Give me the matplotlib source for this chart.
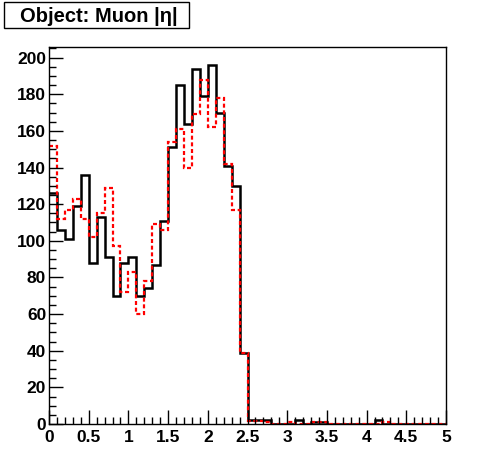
import numpy as np
import matplotlib
matplotlib.use("Agg")
import matplotlib.pyplot as plt
from matplotlib.ticker import MultipleLocator

plt.rcParams['font.family'] = ['Liberation Sans', 'DejaVu Sans']
plt.rcParams['font.weight'] = 'bold'

# Muon |eta|, 50 bins from 0 to 5
bin_lo, bin_hi, n_bins = 0.0, 5.0, 50

black_counts = [126, 106, 101, 119, 136, 88, 113, 91, 70, 88,
                91, 70, 74, 87, 111, 151, 185, 164, 194, 179,
                196, 170, 141, 130, 39, 2, 2, 2, 0, 0,
                0, 2, 0, 1, 1, 0, 0, 0, 0, 0,
                0, 2, 0, 0, 0, 0, 0, 0, 0, 0]
red_counts = [152, 112, 117, 123, 112, 102, 115, 129, 97, 72,
              83, 60, 78, 109, 106, 154, 161, 140, 169, 188,
              162, 178, 142, 117, 39, 1.5, 1.5, 1, 0, 0,
              1, 0, 0, 1, 1, 0, 0, 0, 0, 0,
              0, 0, 1, 0, 0, 0, 0, 0, 0, 0]

title_text = "Object: Muon |\u03b7|"

fig = plt.figure(figsize=(4.96, 4.72), dpi=100)
ax = fig.add_axes([49 / 496, 1 - 424 / 472, 397 / 496, 377 / 472])

edges = np.linspace(bin_lo, bin_hi, n_bins + 1)
ax.stairs(black_counts, edges, color='black', linewidth=1.8, baseline=None)
ax.stairs(red_counts, edges, color='red', linewidth=1.6,
          linestyle=(0, (1.8, 1.2)), baseline=None)

ax.set_xlim(bin_lo, bin_hi)
ax.set_ylim(0, max(black_counts) * 1.05)

ax.xaxis.set_major_locator(MultipleLocator(0.5))
ax.xaxis.set_minor_locator(MultipleLocator(0.1))
ax.yaxis.set_major_locator(MultipleLocator(20))
ax.yaxis.set_minor_locator(MultipleLocator(5))
ax.xaxis.set_major_formatter(plt.FuncFormatter(lambda v, p: f"{v:g}"))

ax.tick_params(which='both', direction='in', top=False, right=False,
               labelsize=12.5, width=1, pad=2)
ax.tick_params(axis='x', which='major', pad=4)
ax.tick_params(which='major', length=10)
ax.tick_params(which='minor', length=5)
for lab in ax.get_xticklabels() + ax.get_yticklabels():
    lab.set_fontweight('bold')
for sp in ax.spines.values():
    sp.set_linewidth(1)

# title box like ROOT
fig.text(99 / 496, 1 - 16 / 472, title_text, ha='center', va='center',
         fontsize=14.5, fontweight='bold')
box = plt.Rectangle((4 / 496, 1 - 28 / 472), 185 / 496, 26 / 472,
                    transform=fig.transFigure, fill=False, ec='black', lw=1)
fig.patches.append(box)

fig.savefig('out.png', dpi=100)
